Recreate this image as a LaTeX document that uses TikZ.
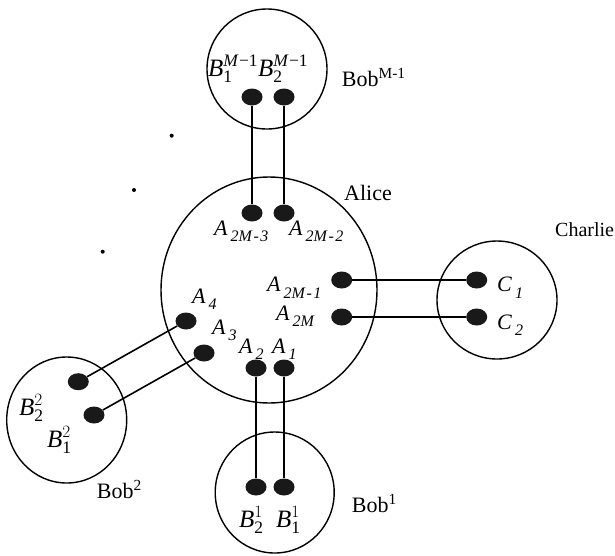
\documentclass[tikz,border=0pt]{standalone}
\usepackage{fontspec}
\usepackage{amsmath}
\setmainfont{Liberation Serif}
\usetikzlibrary{shapes.geometric}

% italic letter with a spaced italic subscript, e.g. A_{2M-3}
\newcommand\islab[2]{\textit{#1}\kern3pt\raisebox{-6.5pt}{\fontsize{16}{16}\selectfont\itshape #2}}
% party qubit labels B_i^j
\newcommand\bqlab[2]{$\textit{B}_{\text{#1}}^{#2}$}
% party names with an upright superscript
\newcommand\party[2]{#1$^{\text{#2}}$}

\begin{document}
\begin{tikzpicture}[x=1pt,y=-1pt,
  partycirc/.style={draw, ellipse, line width=1.4pt, inner sep=0pt},
  qdot/.style={ellipse, fill=black!90, inner sep=0pt, minimum width=21pt, minimum height=17pt},
  wire/.style={line width=1.6pt},
  lbl/.style={anchor=base west, inner sep=0pt, font=\fontsize{22}{26}\selectfont},
  blbl/.style={anchor=base west, inner sep=0pt, font=\fontsize{25}{30}\selectfont},
  ellip/.style={circle, fill=black, inner sep=0pt, minimum size=4pt}]

\useasboundingbox[fill=white] (0,0) rectangle (615,555);

% parties
\node[partycirc, minimum width=216pt, minimum height=226pt] (alice) at (269,290) {};
\node[partycirc, minimum width=120pt, minimum height=120pt] (bobm) at (267,69) {};
\node[partycirc, minimum width=119pt, minimum height=121pt] (bob1) at (274.7,492.5) {};
\node[partycirc, minimum width=120pt, minimum height=126pt] (bob2) at (66.7,420) {};
\node[partycirc, minimum width=120pt, minimum height=118pt] (charlie) at (497,300) {};

% qubits held by Alice
\node[qdot] (a2m3) at (252,213) {};
\node[qdot] (a2m2) at (284,213) {};
\node[qdot] (a2m1) at (341.7,280) {};
\node[qdot] (a2m)  at (341.7,317) {};
\node[qdot] (a4)   at (186,321) {};
\node[qdot] (a3)   at (204,353) {};
\node[qdot] (a2)   at (256,368) {};
\node[qdot] (a1)   at (284,368) {};

% qubits held by the other parties
\node[qdot] (bm1) at (252,97) {};
\node[qdot] (bm2) at (284,97) {};
\node[qdot] (b12) at (256,487) {};
\node[qdot] (b11) at (284,487) {};
\node[qdot] (b2u) at (78.3,381.7) {};
\node[qdot] (b2l) at (94,415) {};
\node[qdot] (c1)  at (476.7,280) {};
\node[qdot] (c2)  at (476.7,317) {};

% shared pairs
\draw[wire] (bm1) -- (a2m3);
\draw[wire] (bm2) -- (a2m2);
\draw[wire] (a2m1) -- (c1);
\draw[wire] (a2m) -- (c2);
\draw[wire] (a2) -- (b12);
\draw[wire] (a1) -- (b11);
\draw[wire] (b2u) -- (a4);
\draw[wire] (b2l) -- (a3);

% ellipsis dots for the remaining Bobs
\node[ellip] (e1) at (171.7,135.7) {};
\node[ellip] (e2) at (134,190) {};
\node[ellip] (e3) at (102.7,251.7) {};

% Alice's qubit labels
\node[lbl] (la2m3) at (214,235) {\islab{A}{2M\kern1.5pt-\kern1.5pt3}};
\node[lbl] (la2m2) at (289,235) {\islab{A}{2M\kern1.5pt-\kern1.5pt2}};
\node[lbl] (la2m1) at (267,291.7) {\islab{A}{2M\kern1.5pt-\kern1.5pt1}};
\node[lbl] (la2m)  at (276,320) {\islab{A}{2M}};
\node[lbl] (la4)   at (192,303) {\islab{A}{4}};
\node[lbl] (la3)   at (212,334) {\islab{A}{3}};
\node[lbl] (la2)   at (239,353) {\islab{A}{2}};
\node[lbl] (la1)   at (272,353) {\islab{A}{1}};

% Charlie's qubit labels
\node[lbl] (lc1) at (497,291.7) {\islab{C}{1}};
\node[lbl] (lc2) at (497,329) {\islab{C}{2}};

% Bobs' qubit labels
\node[blbl] (lbm1) at (208,76) {\bqlab{1}{\textit{M}\kern1pt\text{−1}}};
\node[blbl] (lbm2) at (258,76) {\bqlab{2}{\textit{M}\kern1pt\text{−1}}};
\node[blbl] (lb12) at (239,527) {\bqlab{2}{1}};
\node[blbl] (lb11) at (276,527) {\bqlab{1}{1}};
\node[blbl] (lb22) at (19,415) {\bqlab{2}{2}};
\node[blbl] (lb21) at (47,447) {\bqlab{1}{2}};

% party names
\node[lbl] (nalice) at (344,200) {Alice};
\node[lbl, font=\fontsize{20}{24}\selectfont] (ncharlie) at (555,236) {Charlie};
\node[lbl] (nbobm) at (341.7,86) {\party{Bob}{M-1}};
\node[lbl] (nbob1) at (351.7,512) {\party{Bob}{1}};
\node[lbl] (nbob2) at (96.7,498) {\party{Bob}{2}};

\end{tikzpicture}
\end{document}
